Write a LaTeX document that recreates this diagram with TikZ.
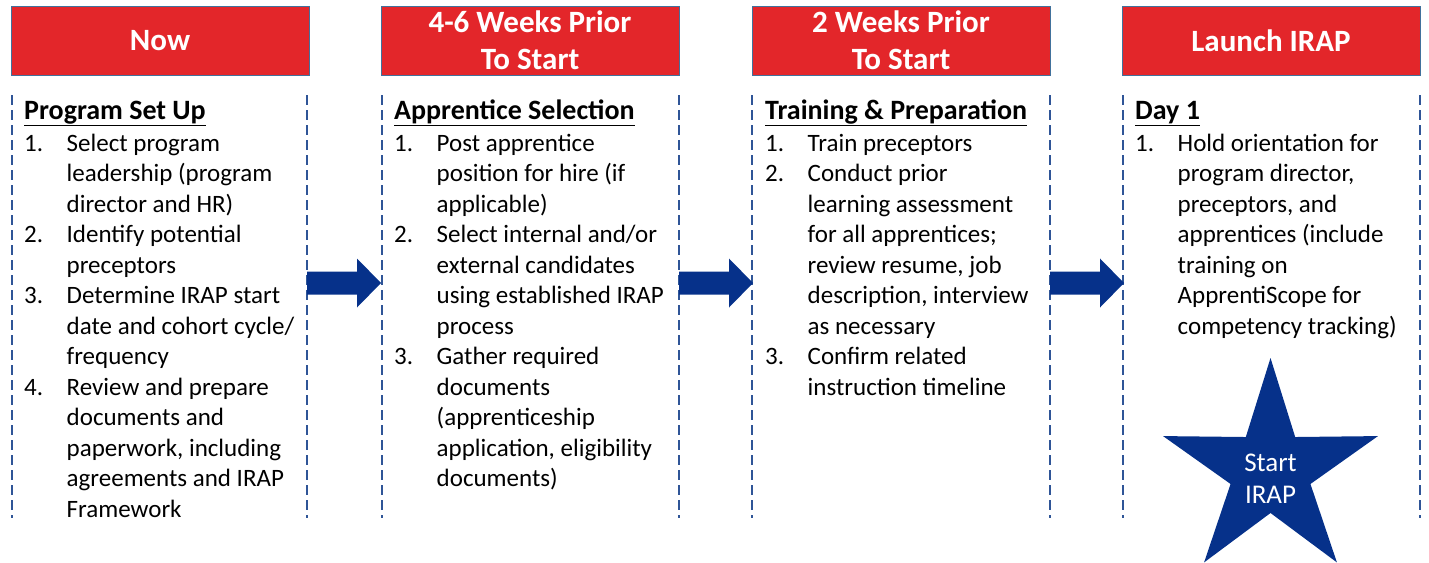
\documentclass[tikz,border=0pt]{standalone}
\usepackage{fontspec}
\setmainfont{Carlito}
\usetikzlibrary{calc}

\definecolor{hdrred}{HTML}{E3262A}
\definecolor{hdredge}{HTML}{41719C}
\definecolor{navy}{HTML}{06318A}
\definecolor{dashblue}{HTML}{2F5597}

\newcommand{\bodyfont}{\fontsize{25}{30.5}\selectfont}
\newcommand{\colhead}[1]{\multicolumn{2}{@{}l@{}}{\fontsize{28}{30.5}\selectfont\bfseries\underline{#1}}\\[1.5pt]}
\newenvironment{steplist}{\begin{tabular}[t]{@{}p{42.5pt}@{}l@{}}}{\end{tabular}}

\tikzset{
  x=1pt, y=-1pt,
  header/.style={fill=hdrred, draw=hdredge, line width=1pt,
    minimum width=298pt, minimum height=69pt, inner sep=0pt,
    text=white, align=center, font=\fontsize{31}{37}\selectfont\bfseries},
  divider/.style={draw=dashblue, line width=1.6pt, dash pattern=on 10pt off 5pt},
  steps/.style={anchor=base west, inner sep=0pt, font=\bodyfont},
  pics/blockarrow/.style={code={
    \fill[navy] (0,-11.5) -- (50,-11.5) -- (50,-24.5) -- (74,0)
      -- (50,24.5) -- (50,11.5) -- (0,11.5) -- cycle;}},
}

\begin{document}
\begin{tikzpicture}
\useasboundingbox (0,0) rectangle (1429,562);

% phase headers
\node[header] (now)    at (160,40.5)  {Now};
\node[header] (prior6) at (530,40.5)  {4-6 Weeks Prior\\To Start};
\node[header] (prior2) at (901,40.5)  {2 Weeks Prior\\To Start};
\node[header] (launch) at (1271,40.5) {Launch IRAP};

% dashed column borders
\foreach \xa/\xb in {12/307, 382/679, 752/1050, 1123/1420} {
  \draw[divider] (\xa,95) -- (\xa,518);
  \draw[divider] (\xb,95) -- (\xb,518);
}

% column contents
\node[steps] (setup) at (24,119) {\begin{steplist}
\colhead{Program Set Up}
1. & Select program\\
   & leadership (program\\
   & director and HR)\\
2. & Identify potential\\
   & preceptors\\
3. & Determine IRAP start\\
   & date and cohort cycle/\\
   & frequency\\
4. & Review and prepare\\
   & documents and\\
   & paperwork, including\\
   & agreements and IRAP\\
   & Framework
\end{steplist}};

\node[steps] (select) at (394,119) {\begin{steplist}
\colhead{Apprentice Selection}
1. & Post apprentice\\
   & position for hire (if\\
   & applicable)\\
2. & Select internal and/or\\
   & external candidates\\
   & using established IRAP\\
   & process\\
3. & Gather required\\
   & documents\\
   & (apprenticeship\\
   & application, eligibility\\
   & documents)
\end{steplist}};

\node[steps] (train) at (765,119) {\begin{steplist}
\colhead{Training \& Preparation}
1. & Train preceptors\\
2. & Conduct prior\\
   & learning assessment\\
   & for all apprentices;\\
   & review resume, job\\
   & description, interview\\
   & as necessary\\
3. & Confirm related\\
   & instruction timeline
\end{steplist}};

\node[steps] (day1) at (1135,119) {\begin{steplist}
\colhead{Day 1}
1. & Hold orientation for\\
   & program director,\\
   & preceptors, and\\
   & apprentices (include\\
   & training on\\
   & ApprentiScope for\\
   & competency tracking)
\end{steplist}};

% block arrows between phases
\coordinate (arrA) at (307,283);
\coordinate (arrB) at (679,283);
\coordinate (arrC) at (1050,283);
\pic at (arrA) {blockarrow};
\pic at (arrB) {blockarrow};
\pic at (arrC) {blockarrow};

% launch star
\fill[navy, shift={(1270.5,471)}]
  (-90:113) -- (-54:42) -- (-18:113) -- (18:42) -- (54:113) -- (90:42)
  -- (126:113) -- (162:42) -- (198:113) -- (234:42) -- cycle;
\node[text=white, align=center, inner sep=0pt, font=\fontsize{27}{32}\selectfont]
  (startlbl) at (1270.5,479) {Start\\IRAP};
\end{tikzpicture}
\end{document}
